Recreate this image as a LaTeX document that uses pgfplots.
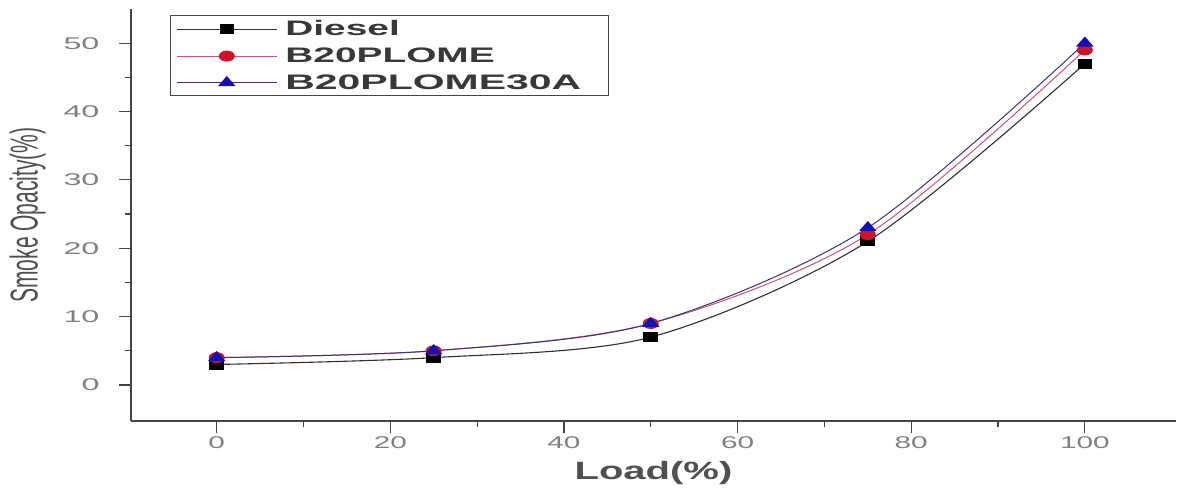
\documentclass[border=0pt]{standalone}
\usepackage{pgfplots}
\pgfplotsset{compat=1.18}
\usepackage{fontspec}
\setmainfont{Liberation Sans}

\definecolor{axisgray}{HTML}{454545}
\definecolor{ticktext}{HTML}{808080}
\definecolor{labeltext}{HTML}{505050}
\definecolor{legendtext}{HTML}{383838}
\definecolor{dieselline}{HTML}{303030}
\definecolor{plomeline}{HTML}{D05070}
\definecolor{plomemark}{HTML}{D01428}
\definecolor{aline}{HTML}{3A2F7A}
\definecolor{amark}{HTML}{1010B8}

% Smoke opacity (%) against engine load (%)
\pgfplotstableread{
load diesel plome plomeA
0    3      4     4
25   4      5     5
50   7      9     9
75   21     22    23
100  47     49    50
}\smoke

\newcommand{\wide}[2][1.75]{\scalebox{#1}[1]{#2}}

\begin{document}
\begin{tikzpicture}
\begin{axis}[
  scale only axis,
  width=1045pt, height=412pt,
  xmin=-9.87, xmax=110.5,
  ymin=-5.27, ymax=55,
  axis lines*=left,
  axis line style={axisgray, line width=1.4pt},
  xtick={0,20,...,100},
  ytick={0,10,...,50},
  minor x tick num=1,
  minor y tick num=1,
  tick align=outside,
  major tick length=12pt,
  minor tick length=6pt,
  every tick/.style={axisgray, line width=1.2pt},
  xticklabel={\wide{\pgfmathprintnumber{\tick}}},
  yticklabel={\wide[1.9]{\pgfmathprintnumber{\tick}}},
  /pgf/number format/assume math mode=true,
  tick label style={font=\fontsize{17}{17}\selectfont, text=ticktext},
  yticklabel style={xshift=-16pt},
  xlabel={\wide[1.6]{\textbf{Load(\%)}}},
  xlabel style={font=\fontsize{25}{25}\selectfont, text=labeltext, yshift=-6pt},
  ylabel={\scalebox{1}[1.85]{Smoke Opacity(\%)}},
  ylabel style={font=\fontsize{21}{21}\selectfont, text=labeltext, yshift=11pt},
  legend cell align=left,
  legend style={at={(rel axis cs:0.037,0.985)}, anchor=north west,
    draw=axisgray, line width=1.2pt, inner xsep=6pt, inner ysep=3pt, row sep=6.5pt,
    font=\fontsize{21}{21}\selectfont\bfseries, text=legendtext,
    /tikz/every odd column/.append style={column sep=6pt}},
  legend image code/.code={
    \draw[mark repeat=2, mark phase=2, #1]
      plot coordinates {(0pt,0pt) (50pt,0pt) (100pt,0pt)};},
  smooth, tension=0.5,
]
\addplot[dieselline, line width=1.1pt, mark=square*,
  mark options={fill=black, draw=black, xscale=1.5, mark size=4.5pt}]
  table[x=load, y=diesel] {\smoke};
\addlegendentry{\wide[1.85]{Diesel}}
\addplot[plomeline, line width=1pt, mark=*,
  mark options={fill=plomemark, draw=plomemark, xscale=1.5, mark size=5pt}]
  table[x=load, y=plome] {\smoke};
\addlegendentry{\wide[1.85]{B20PLOME}}
\addplot[aline, line width=1pt, mark=triangle*,
  mark options={fill=amark, draw=amark, xscale=1.5, mark size=6pt}]
  table[x=load, y=plomeA] {\smoke};
\addlegendentry{\wide[1.95]{B20PLOME30A}\hspace*{19pt}}
\coordinate (sw) at (rel axis cs:0,0);
\end{axis}
\pgfresetboundingbox
\path[use as bounding box] (sw) ++(-131pt,-69pt) rectangle ++(1178pt,490pt);
\end{tikzpicture}
\end{document}
